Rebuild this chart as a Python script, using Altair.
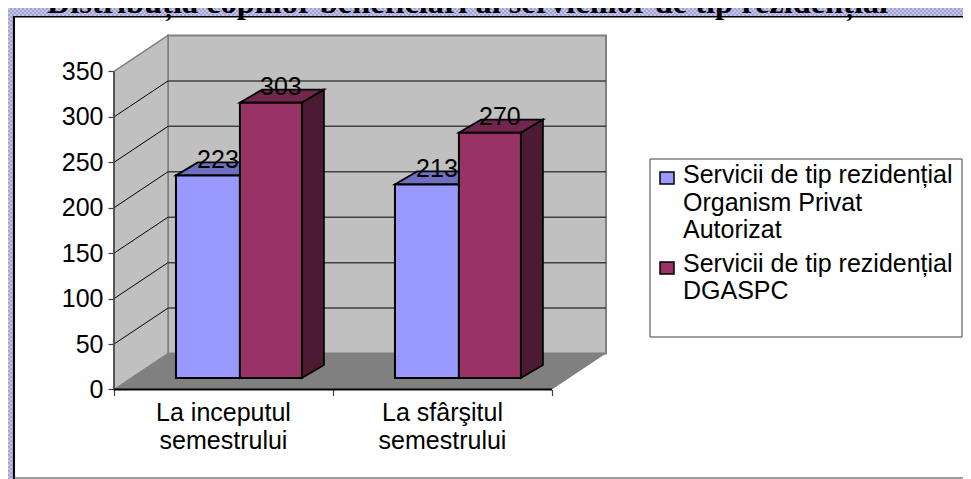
import altair as alt
import pandas as pd

# ---- values
CATEGORIES = ["La inceputul", "La sfârşitul"]
CATEGORY_LINE2 = ["semestrului", "semestrului"]
ORGANISM_PRIVAT = [223, 213]
DGASPC = [303, 270]
Y_TICKS = [0, 50, 100, 150, 200, 250, 300, 350]
TITLE = "Distribuția copiilor beneficiari ai serviciilor de tip rezidențial"
LEGEND_1 = ["Servicii de tip rezidențial", "Organism Privat", "Autorizat"]
LEGEND_2 = ["Servicii de tip rezidențial", "DGASPC"]

# ---- layout
W, H = 955, 471
CAT_PX = 219.0        # width of one category
UNIT_PX = 0.9086      # pixels per value unit
X0_PX, Y0_PX = 106.0, 381.5   # origin of the front axes in chart pixels
WALL_DU, WALL_DV = 54 / CAT_PX, 36 / UNIT_PX
BAR_DU, BAR_DV = 22 / CAT_PX, 13 / UNIT_PX
BASE_DV = 11.5 / UNIT_PX
BAR_EDGES = [0.283, 0.575, 0.858]
FONT = "Liberation Sans"
FS = 25

XS = alt.Scale(domain=[-X0_PX / CAT_PX, (W - X0_PX) / CAT_PX], range=[0, W], nice=False, zero=False)
YS = alt.Scale(domain=[(Y0_PX - H) / UNIT_PX, Y0_PX / UNIT_PX], range=[H, 0], nice=False, zero=False)
X_AXIS = alt.Axis(values=[0, 1, 2], labels=False, domain=False, grid=False, tickSize=6,
                  tickColor="#404040", tickWidth=1.2, offset=-(H - Y0_PX))
Y_AXIS = alt.Axis(values=Y_TICKS, domain=False, grid=False, tickSize=6, tickColor="#404040",
                  tickWidth=1.2, labelFont=FONT, labelFontSize=FS, labelColor="#000000",
                  labelPadding=5, offset=-X0_PX)
X = lambda f, **k: alt.X(f, scale=XS, title=None, axis=X_AXIS, **k)
Y = lambda f, **k: alt.Y(f, scale=YS, title=None, axis=Y_AXIS, **k)


def vert_face(us, lo, hi, fill, stroke=None, sw=0):
    """Parallelogram with two vertical sides."""
    df = pd.DataFrame({"u": us, "v": lo, "v2": hi})
    kw = dict(stroke=stroke, strokeWidth=sw) if stroke else {}
    return alt.Chart(df).mark_area(orient="vertical", fill=fill, **kw).encode(
        x=X("u:Q"), y=Y("v:Q"), y2="v2:Q")


def horiz_face(vs, left, right, fill, stroke=None, sw=0):
    """Parallelogram with two horizontal sides."""
    df = pd.DataFrame({"v": vs, "u": left, "u2": right})
    kw = dict(stroke=stroke, strokeWidth=sw) if stroke else {}
    return alt.Chart(df).mark_area(orient="horizontal", fill=fill, **kw).encode(
        y=Y("v:Q"), x=X("u:Q"), x2="u2:Q")


def pixel_rect(x, x2, y, y2, **style):
    return alt.Chart().mark_rect(**style).encode(
        x=alt.value(x), x2=alt.value(x2), y=alt.value(y), y2=alt.value(y2))


def pixel_text(line, x, y, **style):
    return alt.Chart(pd.DataFrame({"t": [line]})).mark_text(
        baseline="alphabetic", **style).encode(x=alt.value(x), y=alt.value(y), text="t:N")


layers = []

# --- slide frame: patterned band with a black inner line
layers.append(pixel_rect(0, W, 0, 8, fill="#a3a3d6"))
layers.append(pixel_rect(0, 5, 0, H, fill="#a3a3d6"))
for i, yy in enumerate([1, 3, 5, 7]):
    layers.append(alt.Chart().mark_rule(color="#e4e4f6", strokeWidth=1, strokeDash=[2, 2],
                                        strokeDashOffset=i % 2 * 2).encode(
        x=alt.value(0), x2=alt.value(W), y=alt.value(yy)))
for i, xx in enumerate([1, 3]):
    layers.append(alt.Chart().mark_rule(color="#e4e4f6", strokeWidth=1, strokeDash=[2, 2],
                                        strokeDashOffset=i % 2 * 2).encode(
        x=alt.value(xx), y=alt.value(8), y2=alt.value(H)))
layers.append(pixel_rect(5, W, 8, 9.5, fill="#000000"))
layers.append(pixel_rect(5, 7, 8, H, fill="#000000"))
layers.append(pixel_rect(5, W, H - 1.5, H - 0.5, fill="#404040"))

# --- the title, cropped by the top of the picture as in the reference
layers.append(pixel_text(TITLE, 459.5, 5, font="Liberation Serif", fontWeight="bold",
                         fontSize=32.4, align="center", color="#000000"))

# --- back wall
wall = pd.DataFrame({"u": [WALL_DU], "u2": [2 + WALL_DU], "v": [WALL_DV], "v2": [350 + WALL_DV]})
layers.append(alt.Chart(wall).mark_rect(fill="#c0c0c0", stroke="#808080", strokeWidth=2).encode(
    x=X("u:Q"), x2="u2:Q", y=Y("v:Q"), y2="v2:Q"))
# --- left wall and floor
layers.append(vert_face([0, WALL_DU], [0, WALL_DV], [350, 350 + WALL_DV], "#c0c0c0", "#808080", 1.5))
layers.append(horiz_face([0, WALL_DV], [0, WALL_DU], [2, 2 + WALL_DU], "#808080"))

# --- gridlines on both walls
grid = pd.DataFrame({"v": [t for t in Y_TICKS if 0 < t < 350]})
grid["vb"] = grid["v"] + WALL_DV
grid["ub"] = WALL_DU
grid["ur"] = 2 + WALL_DU
grid["ul"] = 0.0
layers.append(alt.Chart(grid).mark_rule(color="#404040", strokeWidth=1.5).encode(
    x=X("ub:Q"), x2="ur:Q", y=Y("vb:Q")))
layers.append(alt.Chart(grid).mark_rule(color="#000000", strokeWidth=1).encode(
    x=X("ul:Q"), x2="ub:Q", y=Y("v:Q"), y2="vb:Q"))

# --- axis lines
frame_lines = pd.DataFrame({"u": [0.0], "u2": [2.0], "v": [0.0], "v2": [350.0]})
layers.append(alt.Chart(frame_lines).mark_rule(color="#404040", strokeWidth=1.5).encode(
    x=X("u:Q"), y=Y("v:Q"), y2="v2:Q"))
layers.append(alt.Chart(frame_lines).mark_rule(color="#000000", strokeWidth=2).encode(
    x=X("u:Q"), x2="u2:Q", y=Y("v:Q")))

# --- 3-D bars
STYLES = [("#9999ff", "#7070c0", "#4d4d80"), ("#993366", "#73264d", "#4d1a33")]
labels = []
for s, values in enumerate([ORGANISM_PRIVAT, DGASPC]):
    front, top, side = STYLES[s]
    for c, val in enumerate(values):
        ul, ur = c + BAR_EDGES[s], c + BAR_EDGES[s + 1]
        vt, vb = val + BASE_DV, BASE_DV
        layers.append(horiz_face([vt, vt + BAR_DV], [ul, ul + BAR_DU], [ur, ur + BAR_DU], top, "#000000", 1.8))
        layers.append(vert_face([ur, ur + BAR_DU], [vb, vb + BAR_DV], [vt, vt + BAR_DV], side, "#000000", 1.8))
        rect = pd.DataFrame({"u": [ul], "u2": [ur], "v": [vb], "v2": [vt]})
        layers.append(alt.Chart(rect).mark_rect(fill=front, stroke="#000000", strokeWidth=2).encode(
            x=X("u:Q"), x2="u2:Q", y=Y("v:Q"), y2="v2:Q"))
        labels.append({"u": (ul + ur + BAR_DU) / 2 - 1 / CAT_PX, "v": vt, "t": str(val)})
layers.append(alt.Chart(pd.DataFrame(labels)).mark_text(
    font=FONT, fontSize=FS, baseline="alphabetic", dy=-7.5, color="#000000", align="center").encode(
    x=X("u:Q"), y=Y("v:Q"), text="t:N"))

# --- category labels under the axis
cat_rows = []
for c, (a, b) in enumerate(zip(CATEGORIES, CATEGORY_LINE2)):
    cat_rows.append({"u": c + 0.5, "v": -31.2 / UNIT_PX, "t": a})
    cat_rows.append({"u": c + 0.5, "v": -59.5 / UNIT_PX, "t": b})
layers.append(alt.Chart(pd.DataFrame(cat_rows)).mark_text(
    font=FONT, fontSize=FS, baseline="alphabetic", color="#000000", align="center").encode(
    x=X("u:Q"), y=Y("v:Q"), text="t:N"))

# --- legend
layers.append(pixel_rect(642, 954, 151, 329, fill="#ffffff", stroke="#404040", strokeWidth=1))
layers.append(pixel_rect(652, 666, 164, 176, fill="#9999ff", stroke="#000000", strokeWidth=1.5))
layers.append(pixel_rect(652, 666, 254, 266, fill="#993366", stroke="#000000", strokeWidth=1.5))
for line, yy in zip(LEGEND_1, [175, 203, 230]):
    layers.append(pixel_text(line, 675, yy, font=FONT, fontSize=FS, align="left", color="#000000"))
for line, yy in zip(LEGEND_2, [264, 291]):
    layers.append(pixel_text(line, 675, yy, font=FONT, fontSize=FS, align="left", color="#000000"))

chart = alt.layer(*layers).properties(
    width=W, height=H, padding=0, autosize=alt.AutoSizeParams(type="none"),
    background="#ffffff",
).configure_view(stroke=None)

chart.save("out.html", embed_options={"renderer": "svg", "actions": False})
